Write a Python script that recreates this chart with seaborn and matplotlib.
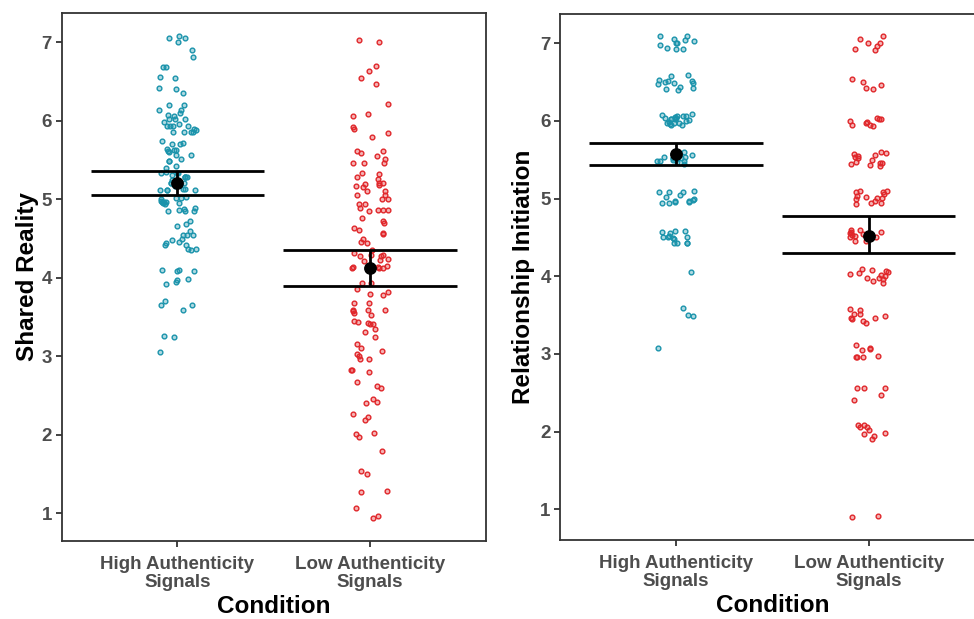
import numpy as np
import pandas as pd
import matplotlib
matplotlib.use("Agg")
import matplotlib.pyplot as plt
import seaborn as sns

# ---------------- data ----------------
conditions = ["High Authenticity Signals", "Low Authenticity Signals"]
tick_labels = ["High Authenticity\nSignals", "Low Authenticity\nSignals"]

sr_high = [7.08, 7.06, 7.05, 7.01, 6.90, 6.81, 6.69, 6.69, 6.56, 6.54, 6.42, 6.40, 6.35,
           6.20, 6.20, 6.14, 6.14, 6.10, 6.07, 6.06, 6.02, 6.02, 6.02, 5.98, 5.96, 5.94,
           5.94, 5.93, 5.93, 5.90, 5.88, 5.86, 5.86, 5.86, 5.86, 5.74, 5.72, 5.70, 5.70,
           5.64, 5.63, 5.63, 5.62, 5.60, 5.57, 5.56, 5.51, 5.49, 5.49, 5.43, 5.40, 5.35,
           5.34, 5.33, 5.33, 5.31, 5.29, 5.29, 5.28, 5.28, 5.25, 5.21, 5.21, 5.21, 5.21,
           5.17, 5.12, 5.12, 5.12, 5.12, 5.13, 5.13, 5.03, 5.02, 5.02, 5.01, 4.98, 4.97,
           4.96, 4.96, 4.95, 4.95, 4.94, 4.89, 4.88, 4.87, 4.85, 4.85, 4.85, 4.72, 4.69,
           4.66, 4.60, 4.55, 4.55, 4.55, 4.50, 4.48, 4.46, 4.45, 4.42, 4.42, 4.37, 4.37,
           4.36, 4.10, 4.10, 4.09, 4.09, 3.99, 3.97, 3.95, 3.92, 3.71, 3.66, 3.66, 3.59,
           3.26, 3.25, 3.05]
sr_low = [7.03, 7.00, 6.70, 6.63, 6.55, 6.47, 6.21, 6.09, 6.06, 5.92, 5.89, 5.84, 5.79,
          5.61, 5.61, 5.59, 5.55, 5.52, 5.46, 5.46, 5.46, 5.33, 5.32, 5.29, 5.26, 5.21,
          5.21, 5.19, 5.18, 5.17, 5.16, 5.10, 5.10, 5.06, 5.06, 5.00, 5.00, 4.94, 4.94,
          4.89, 4.87, 4.86, 4.86, 4.85, 4.76, 4.72, 4.70, 4.64, 4.61, 4.57, 4.56, 4.50,
          4.46, 4.44, 4.36, 4.32, 4.29, 4.29, 4.28, 4.28, 4.24, 4.23, 4.22, 4.15, 4.14,
          4.13, 4.13, 4.14, 4.12, 3.93, 3.93, 3.86, 3.82, 3.79, 3.78, 3.68, 3.68, 3.59,
          3.59, 3.59, 3.58, 3.55, 3.53, 3.45, 3.44, 3.43, 3.41, 3.41, 3.35, 3.31, 3.25,
          3.16, 3.10, 3.07, 3.03, 3.00, 2.96, 2.96, 2.83, 2.83, 2.80, 2.67, 2.62, 2.60,
          2.46, 2.42, 2.41, 2.27, 2.23, 2.19, 2.02, 2.01, 1.97, 1.79, 1.54, 1.50, 1.29,
          1.27, 1.07, 0.97, 0.94]

ri_high = [7.10, 7.09, 7.06, 7.04, 7.03, 7.01, 7.00, 6.98, 6.94, 6.93, 6.92,
           6.59, 6.58, 6.53, 6.52, 6.52, 6.50, 6.49, 6.49, 6.47, 6.44, 6.43, 6.41, 6.40,
           6.09, 6.08, 6.07, 6.07, 6.07, 6.05, 6.04, 6.04, 6.02, 6.02, 6.02, 6.01, 6.00,
           5.99, 5.98, 5.97, 5.97, 5.96, 5.95, 5.95,
           5.60, 5.60, 5.58, 5.56, 5.54, 5.53, 5.52, 5.52, 5.52, 5.51, 5.50, 5.49, 5.48,
           5.48, 5.47, 5.45,
           5.10, 5.09, 5.08, 5.08, 5.05, 5.02, 5.00, 4.98, 4.97, 4.97, 4.96, 4.95, 4.94,
           4.96,
           4.58, 4.58, 4.57, 4.56, 4.52, 4.50, 4.50, 4.49, 4.48, 4.50, 4.43, 4.43, 4.43,
           4.43,
           4.05, 3.59, 3.50, 3.49, 3.08]
ri_low = [7.09, 7.06, 7.01, 7.00, 6.97, 6.93, 6.91,
          6.54, 6.50, 6.46, 6.42, 6.41,
          6.04, 6.03, 6.02, 6.00, 5.98, 5.99, 5.95, 5.95, 5.94,
          5.60, 5.59, 5.57, 5.55, 5.56, 5.53, 5.52, 5.50, 5.47, 5.46, 5.46, 5.45, 5.43, 5.42,
          5.10, 5.10, 5.08, 5.09, 5.06, 5.04, 5.02, 5.01, 5.01, 5.00, 4.97, 4.95, 4.94, 4.93,
          4.60, 4.59, 4.57, 4.57, 4.56, 4.54, 4.53, 4.52, 4.50, 4.51, 4.50, 4.46, 4.45,
          4.09, 4.08, 4.07, 4.06, 4.04, 4.03, 4.02, 4.00, 3.98, 3.98, 3.96, 3.94, 3.92,
          3.58, 3.56, 3.52, 3.52, 3.49, 3.46, 3.46, 3.45, 3.43, 3.40,
          3.11, 3.08, 3.06, 3.05, 2.98, 2.96, 2.96, 2.96,
          2.56, 2.56, 2.56, 2.47, 2.41,
          2.08, 2.08, 2.06, 2.06, 2.02, 1.98, 1.97, 1.94, 1.91,
          0.92, 0.90]

# summary (mean and 95% CI)
sr_mean = [5.21, 4.13]
sr_ci_low = [5.06, 3.90]
sr_ci_high = [5.36, 4.35]
ri_mean = [5.57, 4.52]
ri_ci_low = [5.43, 4.30]
ri_ci_high = [5.72, 4.77]

y_ticks = [1, 2, 3, 4, 5, 6, 7]

# ---------------- style ----------------
sns.set_theme(style="ticks")
plt.rcParams["font.family"] = ["Liberation Sans", "DejaVu Sans"]
plt.rcParams["font.weight"] = "bold"

palette = {conditions[0]: "#1A93AB", conditions[1]: "#E0262A"}
tick_col = "#4D4D4D"
frame_col = "#333333"

fig = plt.figure(figsize=(9.74, 6.19), dpi=100)
ax1 = fig.add_axes([61.7 / 974, 1 - 540.7 / 619, 423.9 / 974, (540.7 - 13.3) / 619])
ax2 = fig.add_axes([560.4 / 974, 1 - 540.0 / 619, 423.9 / 974, (540.0 - 14.0) / 619])

panels = [
    (ax1, sr_high, sr_low, sr_mean, sr_ci_low, sr_ci_high, "Shared Reality", (0.651, 7.37), 3, 2),
    (ax2, ri_high, ri_low, ri_mean, ri_ci_low, ri_ci_high, "Relationship Initiation", (0.605, 7.377), 7, 4),
]

for ax, hi, lo, mean, cil, cih, ylab, ylim, seed, ypad in panels:
    df = pd.DataFrame({
        "Condition": [conditions[0]] * len(hi) + [conditions[1]] * len(lo),
        "value": hi + lo,
    })
    np.random.seed(seed)
    sns.stripplot(data=df, x="Condition", y="value", hue="Condition", order=conditions,
                  hue_order=conditions, palette=palette, jitter=0.1, size=3.4,
                  linewidth=0, legend=False, ax=ax, zorder=2)
    for coll in ax.collections:
        fc = coll.get_facecolor()
        if len(fc):
            c = fc[0].copy()
            coll.set_edgecolor([c])
            light = c.copy()
            light[3] = 0.35
            coll.set_facecolor([light])
            coll.set_linewidth(1.0)
    xs = np.arange(len(conditions))
    # vertical error bars
    ax.vlines(xs, cil, cih, color="black", lw=2.0, zorder=3)
    # wide caps
    ax.hlines(cil, xs - 0.45, xs + 0.45, color="black", lw=2.0, zorder=3)
    ax.hlines(cih, xs - 0.45, xs + 0.45, color="black", lw=2.0, zorder=3)
    ax.plot(xs, mean, "o", color="black", ms=8.2, zorder=4)

    ax.set_xlim(-0.6, 1.6)
    ax.set_ylim(*ylim)
    ax.set_yticks(y_ticks)
    ax.set_yticklabels([str(t) for t in y_ticks])
    ax.set_xticks(xs)
    ax.set_xticklabels(tick_labels, linespacing=1.08)
    ax.tick_params(axis="both", direction="out", length=4, width=1.3, color=frame_col,
                   labelcolor=tick_col, labelsize=13.5, pad=3)
    ax.tick_params(axis="x", pad=7)
    for lab in ax.get_xticklabels() + ax.get_yticklabels():
        lab.set_fontweight("bold")
    for s in ax.spines.values():
        s.set_visible(True)
        s.set_color(frame_col)
        s.set_linewidth(1.3)
    ax.set_xlabel("Condition", fontsize=17.5, fontweight="bold", color="black", labelpad=3)
    ax.set_ylabel(ylab, fontsize=17.5, fontweight="bold", color="black", labelpad=ypad)

fig.savefig("out.png", dpi=100)
